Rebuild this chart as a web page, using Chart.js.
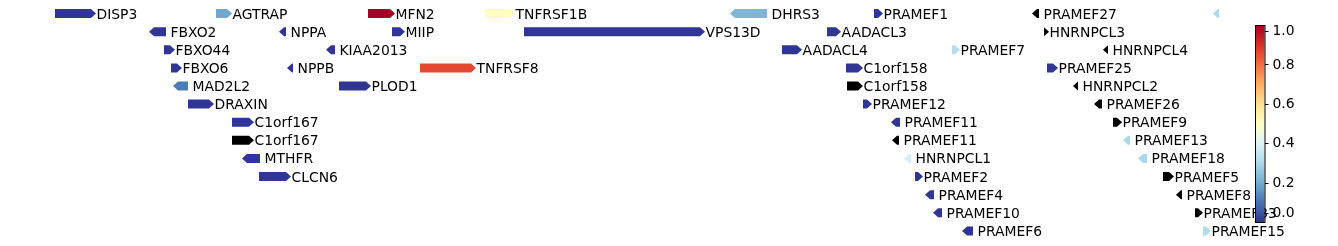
<!DOCTYPE html>
<html><head><meta charset="utf-8">
<script src="https://cdn.jsdelivr.net/npm/chart.js@4/dist/chart.umd.min.js"></script>
<style>html,body{margin:0;padding:0;background:#fff;overflow:hidden}#wrap{width:1338px;height:246px;position:relative}</style>
</head><body><div id="wrap"><canvas id="c" width="1338" height="246"></canvas></div>
<script>
// Gene track data (positions in track units, row = stacking level)
const geneNames  = ['DISP3','AGTRAP','MFN2','TNFRSF1B','DHRS3','PRAMEF1','PRAMEF27','',
  'FBXO2','NPPA','MIIP','VPS13D','AADACL3','HNRNPCL3',
  'FBXO44','KIAA2013','AADACL4','PRAMEF7','HNRNPCL4',
  'FBXO6','NPPB','TNFRSF8','C1orf158','PRAMEF25',
  'MAD2L2','PLOD1','C1orf158','HNRNPCL2',
  'DRAXIN','PRAMEF12','PRAMEF26',
  'C1orf167','PRAMEF11','PRAMEF9',
  'C1orf167','PRAMEF11','PRAMEF13',
  'MTHFR','HNRNPCL1','PRAMEF18',
  'CLCN6','PRAMEF2','PRAMEF5',
  'PRAMEF4','PRAMEF8',
  'PRAMEF10','PRAMEF33',
  'PRAMEF6','PRAMEF15'];
const geneStart  = [55,216,368,485,730,874,1032,1213,
  149,279,392,524,827,1044,
  164,326,782,952,1103,
  171,287,420,846,1047,
  173,339,847,1073,
  188,863,1094,
  232,891,1113,
  232,892,1123,
  242,904,1138,
  259,915,1163,
  925,1176,
  933,1195,
  962,1203];
const geneEnd    = [96,232,395,515,767,883,1039,1219,
  166,286,405,705,841,1049,
  175,335,802,960,1108,
  182,293,476,863,1058,
  188,371,863,1078,
  214,872,1102,
  254,900,1122,
  254,899,1130,
  260,911,1147,
  291,923,1174,
  934,1182,
  942,1203,
  973,1211];
const geneStrand = [1,1,1,1,-1,1,-1,-1,
  -1,-1,1,1,1,1,
  1,-1,1,1,-1,
  1,-1,1,1,1,
  -1,1,1,-1,
  1,1,-1,
  1,-1,1,
  1,-1,-1,
  -1,-1,-1,
  1,1,1,
  -1,-1,
  -1,1,
  -1,1];
const geneRow    = [0,0,0,0,0,0,0,0,
  1,1,1,1,1,1,
  2,2,2,2,2,
  3,3,3,3,3,
  4,4,4,4,
  5,5,5,
  6,6,6,
  7,7,7,
  8,8,8,
  9,9,9,
  10,10,
  11,11,
  12,12];
// null = missing value (drawn black)
const geneValue  = [0,0.19,1.0,0.5,0.22,0,null,0.3,
  0,0,0,0,0,null,
  0,0,0,0.32,null,
  0,0,0.86,0,0,
  0.11,0,null,null,
  0,0,null,
  0,0,null,
  null,null,0.3,
  0,0.38,0.3,
  0,0,null,
  0,null,
  0,null,
  0,0.31];
const colorbarTicks = [0,0.2,0.4,0.6,0.8,1.0];
const colorbarTickLabels = ['0.0','0.2','0.4','0.6','0.8','1.0'];

const RDYLBU_R = ['#313695','#4575b4','#74add1','#abd9e9','#e0f3f8','#ffffbf','#fee090','#fdae61','#f46d43','#d73027','#a50026'];
function hex(h){return [parseInt(h.substr(1,2),16),parseInt(h.substr(3,2),16),parseInt(h.substr(5,2),16)];}
function cmap(v){
  if(v===null||v===undefined) return '#000000';
  v=Math.max(0,Math.min(1,v));
  const p=v*10, i=Math.min(9,Math.floor(p)), t=p-i;
  const a=hex(RDYLBU_R[i]), b=hex(RDYLBU_R[i+1]);
  return 'rgb('+a.map((c,k)=>Math.round(c+(b[k]-c)*t)).join(',')+')';
}
const FONT = '13.9px "DejaVu Sans", sans-serif';

const arrowPlugin = {
  id:'arrows',
  afterDatasetsDraw(chart){
    const ctx=chart.ctx, meta=chart.getDatasetMeta(0);
    ctx.save();
    meta.data.forEach((el,i)=>{
      const p=el.getProps(['x','base','y','height'],true);
      const s=Math.min(p.x,p.base), e=Math.max(p.x,p.base), y=p.y, h=p.height/2;
      const head=Math.min(5,e-s);
      ctx.beginPath();
      if(geneStrand[i]>0){
        ctx.moveTo(s,y-h);ctx.lineTo(e-head,y-h);ctx.lineTo(e,y);ctx.lineTo(e-head,y+h);ctx.lineTo(s,y+h);
      } else {
        ctx.moveTo(e,y-h);ctx.lineTo(s+head,y-h);ctx.lineTo(s,y);ctx.lineTo(s+head,y+h);ctx.lineTo(e,y+h);
      }
      ctx.closePath();
      ctx.fillStyle=cmap(geneValue[i]);
      ctx.fill();
    });
    ctx.font=FONT; ctx.fillStyle='#000'; ctx.textBaseline='alphabetic'; ctx.textAlign='left';
    meta.data.forEach((el,i)=>{
      if(!geneNames[i]) return;
      const p=el.getProps(['x','base','y'],true);
      const e=Math.max(p.x,p.base);
      ctx.fillText(geneNames[i], e+(geneStrand[i]>0?0.5:4.5), p.y+5);
    });
    ctx.restore();
  },
  afterDraw(chart){
    const ctx=chart.ctx;
    const x0=1255, w=9.5, top=25, bot=222, H=bot-top;
    ctx.save();
    const g=ctx.createLinearGradient(0,bot,0,top);
    for(let k=0;k<=40;k++){g.addColorStop(k/40,cmap(k/40));}
    ctx.fillStyle=g; ctx.fillRect(x0,top,w,H);
    ctx.strokeStyle='#000'; ctx.lineWidth=1; ctx.strokeRect(x0+0.5,top+0.5,w,H);
    ctx.font=FONT; ctx.fillStyle='#000'; ctx.textBaseline='middle';
    colorbarTicks.forEach((v,k)=>{
      let ty=bot-v*H;
      ty=Math.max(top+6,Math.min(bot-9,ty));
      ctx.beginPath(); ctx.moveTo(x0+w+0.5,Math.round(ty)+0.5); ctx.lineTo(x0+w+4,Math.round(ty)+0.5); ctx.stroke();
      ctx.fillText(colorbarTickLabels[k], x0+w+8, ty+0.5);
    });
    ctx.restore();
  }
};

new Chart(document.getElementById('c'),{
  type:'bar',
  data:{
    labels:geneNames,
    datasets:[{
      data:geneStart.map((s,i)=>({x:[s,geneEnd[i]],y:geneRow[i]})),
      backgroundColor:'rgba(0,0,0,0)',
      borderWidth:0,
      barThickness:9,
      grouped:false
    }]
  },
  options:{
    indexAxis:'y',
    responsive:false,
    animation:false,
    layout:{padding:0},
    plugins:{legend:{display:false},tooltip:{enabled:false},title:{display:false}},
    scales:{
      x:{type:'linear',min:0,max:1338,display:false,offset:false},
      y:{type:'linear',min:-0.745,max:12.828,reverse:true,display:false,offset:false}
    }
  },
  plugins:[arrowPlugin]
});
</script></body></html>
